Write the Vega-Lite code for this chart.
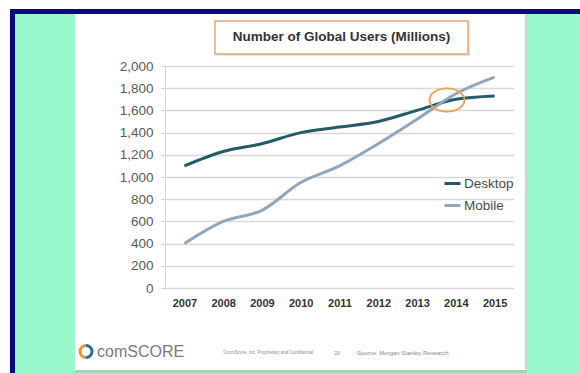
{
  "$schema": "https://vega.github.io/schema/vega-lite/v6.json",
  "width": 349,
  "height": 222,
  "autosize": {"type": "none"},
  "padding": {"left": 165, "top": 66, "right": 66, "bottom": 85},
  "background": "white",
  "config": {"view": {"stroke": null}, "font": "Liberation Sans"},
  "resolve": {"axis": {"x": "independent", "y": "independent"}},
  "datasets": {
    "users": [
      {"year": 2007, "series": "Desktop", "users": 1100},
      {"year": 2008, "series": "Desktop", "users": 1230},
      {"year": 2009, "series": "Desktop", "users": 1300},
      {"year": 2010, "series": "Desktop", "users": 1400},
      {"year": 2011, "series": "Desktop", "users": 1450},
      {"year": 2012, "series": "Desktop", "users": 1500},
      {"year": 2013, "series": "Desktop", "users": 1600},
      {"year": 2014, "series": "Desktop", "users": 1700},
      {"year": 2015, "series": "Desktop", "users": 1730},
      {"year": 2007, "series": "Mobile", "users": 400},
      {"year": 2008, "series": "Mobile", "users": 600},
      {"year": 2009, "series": "Mobile", "users": 700},
      {"year": 2010, "series": "Mobile", "users": 950},
      {"year": 2011, "series": "Mobile", "users": 1100},
      {"year": 2012, "series": "Mobile", "users": 1300},
      {"year": 2013, "series": "Mobile", "users": 1520},
      {"year": 2014, "series": "Mobile", "users": 1750},
      {"year": 2015, "series": "Mobile", "users": 1900}
    ]
  },
  "layer": [
    {
      "data": {"name": "users"},
      "mark": {"type": "line", "interpolate": "monotone", "strokeWidth": 3},
      "encoding": {
        "x": {
          "field": "year", "type": "quantitative",
          "scale": {"domain": [2006.5, 2015.5], "nice": false, "zero": false},
          "axis": {"values": [2007, 2008, 2009, 2010, 2011, 2012, 2013, 2014, 2015], "format": "d", "title": null, "grid": false, "ticks": false, "domain": false, "labelFontSize": 11, "labelFontWeight": "bold", "labelColor": "#333333", "labelPadding": 9, "labelFlush": false}
        },
        "y": {
          "field": "users", "type": "quantitative",
          "scale": {"domain": [0, 2000], "nice": false},
          "axis": {"values": [0, 200, 400, 600, 800, 1000, 1200, 1400, 1600, 1800, 2000], "format": ",.0f", "title": null, "grid": true, "gridColor": "#d9d9d9", "gridWidth": 1.5, "tickColor": "#cfcfcf", "tickSize": 4, "domainColor": "#d4d4d4", "labelFontSize": 13.5, "labelColor": "#595959", "labelPadding": 8, "labelOverlap": false}
        },
        "color": {
          "field": "series", "type": "nominal",
          "scale": {"domain": ["Desktop", "Mobile"], "range": ["#245b6b", "#8ea7ba"]},
          "legend": {"orient": "none", "legendX": 278, "legendY": 108, "title": null, "symbolType": "stroke", "symbolSize": 256, "symbolStrokeWidth": 3, "labelFontSize": 13.5, "labelColor": "#4a4a4a", "labelOffset": 2, "rowPadding": 6, "padding": 0}
        }
      }
    },
    {
      "data": {"values": [{}]},
      "mark": {"type": "rect", "color": "#0b0b80"},
      "encoding": {"x": {"datum": 2002.503, "type": "quantitative", "axis": null}, "x2": {"datum": 2017.3}, "y": {"datum": 2513.5, "type": "quantitative", "axis": null}, "y2": {"datum": 2468.5}}
    },
    {
      "data": {"values": [{}]},
      "mark": {"type": "rect", "color": "#0b0b80"},
      "encoding": {"x": {"datum": 2002.503, "type": "quantitative", "axis": null}, "x2": {"datum": 2002.632}, "y": {"datum": 2513.5, "type": "quantitative", "axis": null}, "y2": {"datum": -800}}
    },
    {
      "data": {"values": [{}]},
      "mark": {"type": "rect", "color": "#99f7cc"},
      "encoding": {"x": {"datum": 2002.632, "type": "quantitative", "axis": null}, "x2": {"datum": 2004.179}, "y": {"datum": 2468.5, "type": "quantitative", "axis": null}, "y2": {"datum": -800}}
    },
    {
      "data": {"values": [{}]},
      "mark": {"type": "rect", "color": "#99f7cc"},
      "encoding": {"x": {"datum": 2015.835, "type": "quantitative", "axis": null}, "x2": {"datum": 2017.3}, "y": {"datum": 2468.5, "type": "quantitative", "axis": null}, "y2": {"datum": -800}}
    },
    {
      "data": {"values": [{}]},
      "mark": {"type": "rect", "color": "#c8d8cf"},
      "encoding": {"x": {"datum": 2015.784, "type": "quantitative", "axis": null}, "x2": {"datum": 2015.835}, "y": {"datum": 2468.5, "type": "quantitative", "axis": null}, "y2": {"datum": -738.7}}
    },
    {
      "data": {"values": [{}]},
      "mark": {"type": "rect", "color": "#a3d3b9"},
      "encoding": {"x": {"datum": 2004.179, "type": "quantitative", "axis": null}, "x2": {"datum": 2015.835}, "y": {"datum": -738.7, "type": "quantitative", "axis": null}, "y2": {"datum": -800}}
    },
    {
      "data": {"values": [{}]},
      "mark": {"type": "rect", "color": "#e6e6e6"},
      "encoding": {"x": {"datum": 2007.841, "type": "quantitative", "axis": null}, "x2": {"datum": 2014.366}, "y": {"datum": 2387.4, "type": "quantitative", "axis": null}, "y2": {"datum": 2090.1}}
    },
    {
      "data": {"values": [{}]},
      "mark": {"type": "rect", "fill": "#ffffff", "stroke": "#e6a870", "strokeWidth": 1.5},
      "encoding": {"x": {"datum": 2007.789, "type": "quantitative", "axis": null}, "x2": {"datum": 2014.314}, "y": {"datum": 2405.4, "type": "quantitative", "axis": null}, "y2": {"datum": 2108.1}}
    },
    {
      "data": {"values": [{}]},
      "mark": {"type": "text", "text": "Number of Global Users (Millions)", "fontSize": 13.5, "fontWeight": "bold", "color": "#333333", "align": "center", "baseline": "middle"},
      "encoding": {"x": {"datum": 2011.052, "type": "quantitative", "axis": null}, "y": {"datum": 2260, "type": "quantitative", "axis": null}}
    },
    {
      "data": {"values": [{}]},
      "mark": {"type": "point", "shape": "M -1 0 C -1 -0.3645 -0.5523 -0.66 0 -0.66 C 0.5523 -0.66 1 -0.3645 1 0 C 1 0.3645 0.5523 0.66 0 0.66 C -0.5523 0.66 -1 0.3645 -1 0 Z", "size": 1225, "filled": false, "stroke": "#eba24e", "strokeWidth": 1.8, "opacity": 1},
      "encoding": {"x": {"datum": 2013.772, "type": "quantitative", "axis": null}, "y": {"datum": 1693.7, "type": "quantitative", "axis": null}}
    },
    {
      "data": {"values": [{}]},
      "mark": {"type": "point", "shape": "M 0 -1 C -0.5523 -1 -1 -0.5523 -1 0 C -1 0.5523 -0.5523 1 0 1", "size": 144, "filled": false, "stroke": "#f0902a", "strokeWidth": 3, "opacity": 1},
      "encoding": {"x": {"datum": 2004.463, "type": "quantitative", "axis": null}, "y": {"datum": -572.1, "type": "quantitative", "axis": null}}
    },
    {
      "data": {"values": [{}]},
      "mark": {"type": "point", "shape": "M 0 -1 C 0.5523 -1 1 -0.5523 1 0 C 1 0.5523 0.5523 1 0 1", "size": 144, "filled": false, "stroke": "#1f6e9c", "strokeWidth": 3, "opacity": 1},
      "encoding": {"x": {"datum": 2004.463, "type": "quantitative", "axis": null}, "y": {"datum": -572.1, "type": "quantitative", "axis": null}}
    },
    {
      "data": {"values": [{}]},
      "mark": {"type": "text", "text": "comSCORE", "fontSize": 16, "color": "#7a7a7a", "align": "left", "baseline": "middle"},
      "encoding": {"x": {"datum": 2004.746, "type": "quantitative", "axis": null}, "y": {"datum": -572.1, "type": "quantitative", "axis": null}}
    },
    {
      "data": {"values": [{}]},
      "mark": {"type": "text", "text": "©comScore, Inc. Proprietary and Confidential", "fontSize": 4.5, "color": "#8a8a8a", "align": "left", "baseline": "middle"},
      "encoding": {"x": {"datum": 2007.996, "type": "quantitative", "axis": null}, "y": {"datum": -585.6, "type": "quantitative", "axis": null}}
    },
    {
      "data": {"values": [{}]},
      "mark": {"type": "text", "text": "20", "fontSize": 5, "color": "#8a8a8a", "align": "center", "baseline": "middle"},
      "encoding": {"x": {"datum": 2010.935, "type": "quantitative", "axis": null}, "y": {"datum": -585.6, "type": "quantitative", "axis": null}}
    },
    {
      "data": {"values": [{}]},
      "mark": {"type": "text", "text": "Source: Morgan Stanley Research", "fontSize": 6, "color": "#8a8a8a", "align": "left", "baseline": "middle"},
      "encoding": {"x": {"datum": 2011.451, "type": "quantitative", "axis": null}, "y": {"datum": -585.6, "type": "quantitative", "axis": null}}
    }
  ]
}
